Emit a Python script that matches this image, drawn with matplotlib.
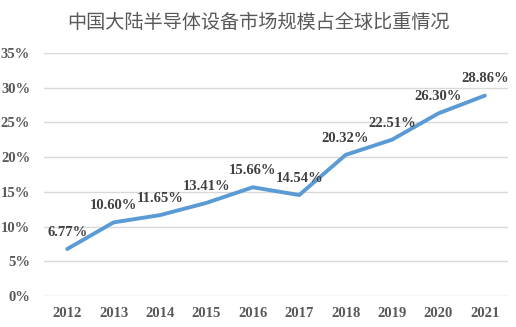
import matplotlib.pyplot as plt
from matplotlib.ticker import MultipleLocator, FuncFormatter

years = ['2012', '2013', '2014', '2015', '2016', '2017', '2018', '2019', '2020', '2021']
share = [6.77, 10.60, 11.65, 13.41, 15.66, 14.54, 20.32, 22.51, 26.30, 28.86]
title = '中国大陆半导体设备市场规模占全球比重情况'

if __name__ == '__main__':
    fig = plt.figure(figsize=(5.16, 3.27), dpi=100)
    ax = fig.add_axes([0.0853, 0.0948, 0.8992, 0.7432])

    x = list(range(len(years)))
    ax.plot(x, share, color='#5B9BD5', linewidth=2.8, solid_capstyle='round', zorder=3)

    for xi, v in zip(x, share):
        ax.annotate(f'{v:.2f}%', (xi, v), xytext=(0, 12), textcoords='offset points',
                    ha='center', va='center', fontsize=10.5, fontweight='bold',
                    family='Liberation Serif', color='#404040')

    ax.set_xlim(-0.5, len(years) - 0.5)
    ax.set_ylim(0, 35)
    ax.yaxis.set_major_locator(MultipleLocator(5))
    ax.yaxis.set_major_formatter(FuncFormatter(lambda v, p: f'{v:.0f}%'))
    ax.set_xticks(x)
    ax.set_xticklabels(years)
    ax.grid(axis='y', color='#D9D9D9', linewidth=1)
    ax.set_axisbelow(True)
    for s in ax.spines.values():
        s.set_visible(False)
    ax.tick_params(length=0, labelsize=10.5, labelcolor='#595959', pad=8)
    for lab in ax.get_xticklabels() + ax.get_yticklabels():
        lab.set_family('Liberation Serif')
        lab.set_fontweight('bold')
    ax.tick_params(axis='y', pad=10)

    fig.text(0.5, 0.93, title, ha='center', va='center', fontsize=13.8,
             family=['Noto Sans CJK SC', 'DejaVu Sans'], color='#595959')

    plt.savefig('out.png')
